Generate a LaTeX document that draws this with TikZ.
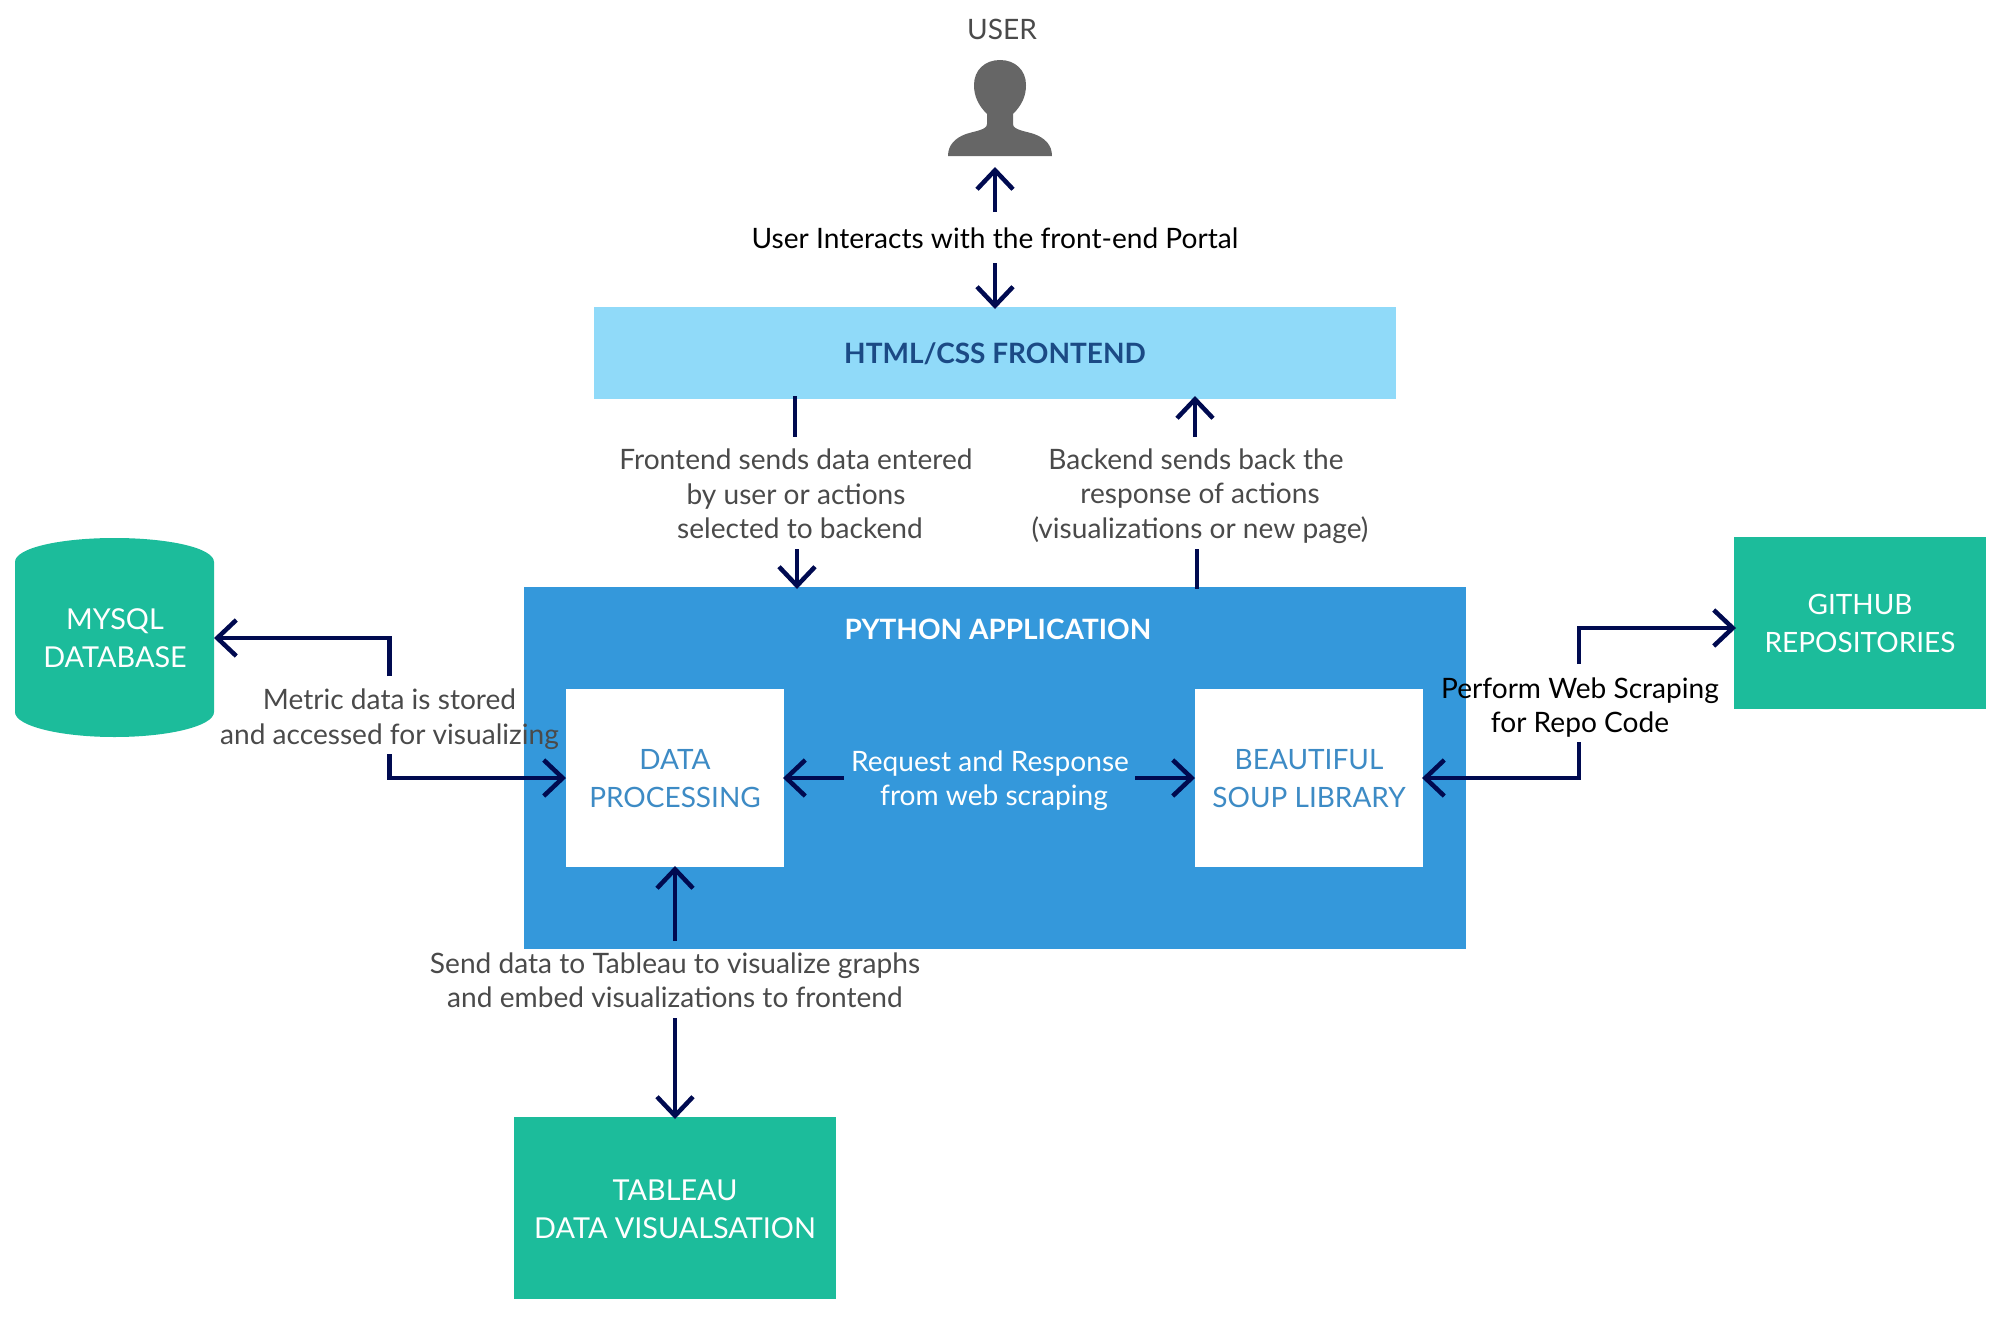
\documentclass[tikz,border=0pt]{standalone}
\usepackage{fontspec}
\setmainfont{Lato}
\usetikzlibrary{arrows.meta}
\definecolor{navy}{HTML}{000A50}
\definecolor{teal1}{HTML}{1CBC9B}
\definecolor{blue1}{HTML}{3498DB}
\definecolor{sky1}{HTML}{90DAF9}
\definecolor{deep1}{HTML}{1B4A85}
\definecolor{grey1}{HTML}{4A4A4A}
\definecolor{icon1}{HTML}{666666}
\definecolor{inner1}{HTML}{3D8BC5}
\tikzset{
  x=1pt,y=-1pt,
  txt/.style={font=\fontsize{28.1}{34.5}\selectfont,align=center,inner sep=0pt,text=grey1},
  blk/.style={txt,text=black},
  whitetxt/.style={txt,text=white},
  boxtxt/.style={font=\fontsize{28}{38}\selectfont,align=center,inner sep=0pt,text=white},
  bigboxtxt/.style={boxtxt,font=\fontsize{28.8}{38}\selectfont},
  headtxt/.style={font=\fontsize{28}{32}\selectfont\bfseries,inner sep=0pt},
  box/.style={inner sep=0pt,outer sep=0pt,anchor=north west},
  conn/.style={draw=navy,line width=4.5pt,line cap=butt},
  tip/.style={conn,-{Straight Barb[length=19pt,width=36pt,line width=4.5pt]}},
}
\begin{document}
\begin{tikzpicture}
\useasboundingbox (0,0) rectangle (2005,1322);
% boxes
\node[box,fill=sky1,minimum width=802.5pt,minimum height=92pt] (front) at (593.5,307) {};
\node[headtxt,text=deep1] (frontt) at (995,354) {HTML/CSS FRONTEND};
\node[box,fill=blue1,minimum width=942pt,minimum height=362pt] (py) at (524,587) {};
\node[headtxt,text=white] (pyt) at (998,629.5) {PYTHON APPLICATION};
\node[box,fill=white,minimum width=218pt,minimum height=178pt] (dp) at (566,689) {};
\node[box,fill=white,minimum width=228pt,minimum height=178pt] (bs) at (1195,689) {};
\node[boxtxt,text=inner1] (dpt) at ([yshift=-1pt]dp.center) {DATA\\PROCESSING};
\node[boxtxt,text=inner1] (bst) at ([yshift=-1pt]bs.center) {BEAUTIFUL\\SOUP LIBRARY};
\node[box,fill=teal1,minimum width=252pt,minimum height=172pt] (gh) at (1734,537) {};
\node[boxtxt] (ght) at (gh.center) {GITHUB\\REPOSITORIES};
\node[box,fill=teal1,minimum width=322pt,minimum height=182pt] (tb) at (514,1117) {};
\node[bigboxtxt] (tbt) at ([yshift=-1pt]tb.center) {TABLEAU\\DATA VISUALSATION};
% cylinder
\fill[teal1] (15,562) .. controls (15,548) and (60,538) .. (114.5,538) .. controls (169,538) and (214,548) .. (214,562)
  -- (214,712) .. controls (214,726) and (169,737) .. (114.5,737) .. controls (60,737) and (15,726) .. (15,712) -- cycle;
\coordinate (db) at (214,638);
\node[bigboxtxt] (dbt) at (115,638) {MYSQL\\DATABASE};
% user
\node[txt] (usr) at (1002,29.5) {USER};
\fill[icon1] (948,156) .. controls (948,145) and (955,138) .. (966,134) .. controls (975,131) and (987,130) .. (987,124)
  -- (987,114) .. controls (978,105) and (974,96) .. (974,85) .. controls (974,70) and (985,60) .. (1000,60)
  .. controls (1015,60) and (1026,70) .. (1026,85) .. controls (1026,96) and (1022,105) .. (1013,114)
  -- (1013,124) .. controls (1013,130) and (1025,131) .. (1034,134) .. controls (1045,138) and (1052,145) .. (1052,156) -- cycle;
\coordinate (ub) at (995,167);
% labels
\node[blk] (l1) at (995,238.5) {User Interacts with the front-end Portal};
\node[txt] (l2) at (796,494) {Frontend sends data entered\\by user or actions\\\hspace*{8pt}selected to backend};
\node[txt] (l3) at (1200,496) {Backend sends back the\hspace*{8pt}\\response of actions\\(visualizations or new page)};
\node[txt] (l4) at (389.5,719) {Metric data is stored\\and accessed for visualizing};
\node[blk] (l5) at (1580,707.5) {Perform Web Scraping\\for Repo Code};
\node[whitetxt] (l6) at (990,780.5) {Request and Response\\\hspace*{8pt}from web scraping};
\node[txt] (l7) at (675,980.5) {Send data to Tableau to visualize graphs\\and embed visualizations to frontend};
% connectors
\coordinate (a1) at (995,212); \draw[tip] (a1) -- (ub);
\coordinate (a2) at (995,263); \coordinate (a2e) at (995,309); \draw[tip] (a2) -- (a2e);
\coordinate (b1) at (795,396); \coordinate (b1e) at (795,437); \draw[conn] (b1) -- (b1e);
\coordinate (b2) at (797,549); \coordinate (b2e) at (797,589); \draw[tip] (b2) -- (b2e);
\coordinate (c1) at (1195,437); \coordinate (c1e) at (1195,396); \draw[tip] (c1) -- (c1e);
\coordinate (c2) at (1197,549); \coordinate (c2e) at (1197,589); \draw[conn] (c2) -- (c2e);
\coordinate (d1) at (389.5,676); \coordinate (d1c) at (389.5,638); \draw[tip] (d1) -- (d1c) -- (db);
\coordinate (d2) at (389.5,754); \coordinate (d2c) at (389.5,778); \coordinate (d2e) at (566,778); \draw[tip] (d2) -- (d2c) -- (d2e);
\coordinate (e1) at (1579,664); \coordinate (e1c) at (1579,628); \coordinate (e1e) at (1736,628); \draw[tip] (e1) -- (e1c) -- (e1e);
\coordinate (e2) at (1579,742); \coordinate (e2c) at (1579,778); \coordinate (e2e) at (1422,778); \draw[tip] (e2) -- (e2c) -- (e2e);
\coordinate (f1) at (844,778); \coordinate (f1e) at (783,778); \draw[tip] (f1) -- (f1e);
\coordinate (f2) at (1135,778); \coordinate (f2e) at (1195,778); \draw[tip] (f2) -- (f2e);
\coordinate (g1) at (675,941); \coordinate (g1e) at (675,866); \draw[tip] (g1) -- (g1e);
\coordinate (g2) at (675,1018); \coordinate (g2e) at (675,1119); \draw[tip] (g2) -- (g2e);
\end{tikzpicture}
\end{document}
